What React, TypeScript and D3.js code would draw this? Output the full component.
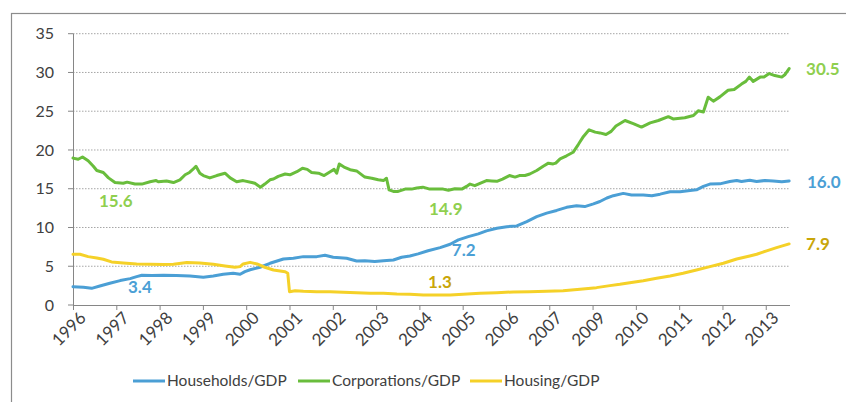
import React from "react";
import * as d3 from "d3";

// time is in axis years since Jan 1996 (tick k = k-th label)
const tickLabels = [
  "1996", "1997", "1998", "1999", "2000", "2001", "2002", "2003", "2004",
  "2005", "2006", "2007", "2009", "2010", "2011", "2012", "2013",
];
const yTicks = [0, 5, 10, 15, 20, 25, 30, 35];

const households: [number, number][] = [
  [0, 2.36], [0.24, 2.28], [0.43, 2.15], [0.62, 2.45], [0.85, 2.8], [1.09, 3.15],
  [1.32, 3.4], [1.47, 3.66], [1.59, 3.83], [1.82, 3.79], [2.09, 3.83], [2.39, 3.79],
  [2.7, 3.75], [3.01, 3.58], [3.24, 3.75], [3.47, 3.96], [3.7, 4.1], [3.86, 3.96],
  [3.97, 4.3], [4.09, 4.55], [4.32, 4.87], [4.55, 5.38], [4.86, 5.94], [5.09, 6.03],
  [5.32, 6.24], [5.63, 6.24], [5.82, 6.42], [6.01, 6.16], [6.32, 6.03], [6.55, 5.68],
  [6.74, 5.72], [6.97, 5.6], [7.17, 5.72], [7.4, 5.81], [7.59, 6.16], [7.78, 6.33],
  [7.97, 6.59], [8.2, 7.0], [8.48, 7.4], [8.71, 7.84], [8.9, 8.4], [9.13, 8.82],
  [9.36, 9.17], [9.55, 9.56], [9.79, 9.91], [10.02, 10.1], [10.25, 10.2], [10.48, 10.76],
  [10.71, 11.4], [10.94, 11.85], [11.17, 12.2], [11.4, 12.6], [11.63, 12.8], [11.82, 12.7],
  [12.02, 13.05], [12.17, 13.35], [12.33, 13.8], [12.48, 14.1], [12.71, 14.4], [12.9, 14.2],
  [13.17, 14.2], [13.37, 14.1], [13.56, 14.3], [13.79, 14.6], [14.02, 14.6], [14.25, 14.77],
  [14.4, 14.86], [14.56, 15.3], [14.71, 15.6], [14.94, 15.63], [15.17, 15.93], [15.33, 16.06],
  [15.44, 15.93], [15.63, 16.1], [15.79, 15.93], [15.98, 16.06], [16.17, 16.0], [16.37, 15.9],
  [16.54, 16.0],
];

const corporations: [number, number][] = [
  [0, 18.95], [0.12, 18.8], [0.22, 19.1], [0.35, 18.6], [0.47, 17.9], [0.55, 17.35],
  [0.7, 17.1], [0.82, 16.4], [0.97, 15.8], [1.16, 15.7], [1.25, 15.85], [1.43, 15.6],
  [1.59, 15.6], [1.78, 15.9], [1.92, 16.05], [1.97, 15.9], [2.16, 16.0], [2.32, 15.8],
  [2.47, 16.15], [2.59, 16.8], [2.69, 17.1], [2.76, 17.45], [2.84, 17.9], [2.93, 17.0],
  [3.01, 16.7], [3.16, 16.4], [3.32, 16.7], [3.51, 17.0], [3.63, 16.4], [3.78, 15.9],
  [3.93, 16.05], [4.13, 15.8], [4.2, 15.7], [4.33, 15.2], [4.43, 15.6], [4.55, 16.15],
  [4.63, 16.25], [4.74, 16.6], [4.9, 16.9], [5.01, 16.8], [5.17, 17.2], [5.3, 17.65],
  [5.41, 17.5], [5.51, 17.1], [5.67, 17.0], [5.8, 16.7], [5.94, 17.2], [6.03, 17.5],
  [6.09, 17.0], [6.15, 18.2], [6.26, 17.8], [6.4, 17.45], [6.55, 17.3], [6.74, 16.5],
  [6.9, 16.35], [7.05, 16.15], [7.17, 16.05], [7.24, 16.35], [7.3, 14.85], [7.4, 14.65],
  [7.51, 14.65], [7.67, 14.95], [7.82, 14.95], [7.94, 15.1], [8.08, 15.2], [8.24, 14.95],
  [8.44, 14.95], [8.55, 14.95], [8.67, 14.8], [8.82, 15.0], [8.98, 14.95], [9.09, 15.3],
  [9.17, 15.6], [9.28, 15.4], [9.4, 15.7], [9.55, 16.05], [9.67, 16.0], [9.79, 15.95],
  [9.92, 16.25], [10.08, 16.7], [10.21, 16.5], [10.31, 16.7], [10.44, 16.7], [10.55, 16.9],
  [10.71, 17.35], [10.86, 17.9], [10.98, 18.3], [11.09, 18.2], [11.15, 18.3], [11.25, 18.85],
  [11.4, 19.25], [11.55, 19.7], [11.67, 20.7], [11.79, 21.75], [11.92, 22.6], [12.06, 22.3],
  [12.17, 22.2], [12.31, 22.0], [12.43, 22.4], [12.54, 23.1], [12.75, 23.8], [12.94, 23.4],
  [13.13, 22.95], [13.33, 23.5], [13.52, 23.8], [13.75, 24.3], [13.86, 24.0], [14.13, 24.15],
  [14.33, 24.45], [14.44, 25.05], [14.56, 24.9], [14.67, 26.8], [14.79, 26.3], [14.94, 26.85],
  [15.13, 27.7], [15.27, 27.8], [15.44, 28.5], [15.54, 28.85], [15.62, 29.4], [15.71, 28.85],
  [15.87, 29.4], [15.96, 29.4], [16.08, 29.85], [16.21, 29.6], [16.37, 29.4], [16.44, 29.7],
  [16.54, 30.5],
];

const housing: [number, number][] = [
  [0, 6.55], [0.16, 6.55], [0.35, 6.24], [0.55, 6.07], [0.7, 5.9], [0.89, 5.56],
  [1.16, 5.43], [1.47, 5.3], [1.78, 5.26], [2.09, 5.21], [2.32, 5.26], [2.63, 5.47],
  [2.93, 5.43], [3.24, 5.26], [3.51, 5.04], [3.74, 4.87], [3.86, 4.95], [3.93, 5.3],
  [4.09, 5.5], [4.25, 5.3], [4.43, 4.87], [4.63, 4.52], [4.9, 4.3], [4.96, 4.1],
  [5.0, 1.72], [5.13, 1.85], [5.32, 1.77], [5.63, 1.72], [5.94, 1.72], [6.24, 1.64],
  [6.55, 1.59], [6.86, 1.51], [7.17, 1.51], [7.48, 1.42], [7.78, 1.38], [8.09, 1.29],
  [8.44, 1.29], [8.71, 1.29], [9.01, 1.38], [9.4, 1.51], [9.79, 1.59], [10.17, 1.68],
  [10.55, 1.72], [10.94, 1.77], [11.32, 1.85], [11.71, 2.03], [12.09, 2.24], [12.4, 2.5],
  [12.63, 2.67], [12.86, 2.88], [13.17, 3.14], [13.48, 3.45], [13.79, 3.75], [14.09, 4.1],
  [14.4, 4.52], [14.71, 4.95], [15.02, 5.39], [15.33, 5.94], [15.63, 6.33], [15.79, 6.55],
  [16.02, 6.98], [16.25, 7.4], [16.54, 7.88],
];

const seriesNames = ["Households/GDP", "Corporations/GDP", "Housing/GDP"];
const seriesData = [households, corporations, housing];
const lineColors = ["#4b9fd5", "#69bd3c", "#f5d128"];
const labelColors = ["#4b9fd5", "#8fcf4f", "#c9a608"];

// callouts: [t, value, text, series index]
const callouts: [number, number, string, number][] = [
  [0.6, 12.66, "15.6", 1],
  [1.27, 1.55, "3.4", 0],
  [8.22, 11.63, "14.9", 1],
  [8.75, 6.33, "7.2", 0],
  [8.2, 2.2, "1.3", 2],
  [16.95, 15.12, "16.0", 0],
  [16.93, 7.1, "7.9", 2],
  [16.93, 29.7, "30.5", 1],
];

const W = 846;
const H = 402;
const font = "Lato, 'Open Sans', sans-serif";

export default function App() {
  const x = d3.scaleLinear().domain([0, 16.56]).range([73, 790]);
  const y = d3.scaleLinear().domain([0, 35]).range([305, 33.7]);
  const line = d3
    .line<[number, number]>()
    .x((d) => x(d[0]))
    .y((d) => y(d[1]));
  const xTicks = tickLabels.map((_, i) => i);
  const legendX = [133, 298, 470];

  return (
    <div style={{ position: "absolute", left: 0, top: 0 }}>
      <svg width={W} height={H} style={{ display: "block", background: "#fff" }}>
        <rect x={11.5} y={13.5} width={W + 20} height={H + 20} fill="none" stroke="#8c8c8c" strokeWidth={1.2} />

        {yTicks.slice(1).map((t) => (
          <line key={t} x1={x(0)} x2={x.range()[1]} y1={y(t)} y2={y(t)}
            stroke="#a6a6a6" strokeWidth={1} strokeDasharray="1.5 1.5" />
        ))}

        {/* y axis */}
        <line x1={x(0) + 0.5} x2={x(0) + 0.5} y1={y(35)} y2={y(0)} stroke="#868686" strokeWidth={1} />
        {yTicks.map((t) => (
          <g key={t}>
            <line x1={x(0) - 5} x2={x(0)} y1={y(t)} y2={y(t)} stroke="#868686" />
            <text x={54} y={y(t)} dy="0.35em" textAnchor="end" fontFamily={font} fontSize={16} fill="#404040">
              {t}
            </text>
          </g>
        ))}

        {/* x axis */}
        <line x1={x(0)} x2={x.range()[1]} y1={y(0) + 0.5} y2={y(0) + 0.5} stroke="#868686" strokeWidth={1} />
        {xTicks.map((i) => (
          <g key={i}>
            <line x1={x(i) + 0.5} x2={x(i) + 0.5} y1={y(0)} y2={y(0) + 5} stroke="#868686" />
            <text transform={`translate(${x(i) + 5},${y(0) + 5}) rotate(-45)`} textAnchor="end" dy="0.75em"
              fontFamily={font} fontSize={17} fill="#404040">
              {tickLabels[i]}
            </text>
          </g>
        ))}

        {seriesData.map((d, i) => (
          <path key={i} d={line(d) || ""} fill="none" stroke={lineColors[i]} strokeWidth={3}
            strokeLinejoin="round" strokeLinecap="round" />
        ))}

        {callouts.map(([t, v, s, k], i) => (
          <text key={i} x={x(t)} y={y(v)} fontFamily={font} fontSize={17} fontWeight="bold" fill={labelColors[k]}>
            {s}
          </text>
        ))}

        {seriesNames.map((n, i) => (
          <g key={n}>
            <line x1={legendX[i]} x2={legendX[i] + 32} y1={381} y2={381} stroke={lineColors[i]} strokeWidth={3} />
            <text x={legendX[i] + 34} y={381} dy="0.35em" fontFamily={font} fontSize={15.5} fill="#404040">
              {n}
            </text>
          </g>
        ))}
      </svg>
    </div>
  );
}
